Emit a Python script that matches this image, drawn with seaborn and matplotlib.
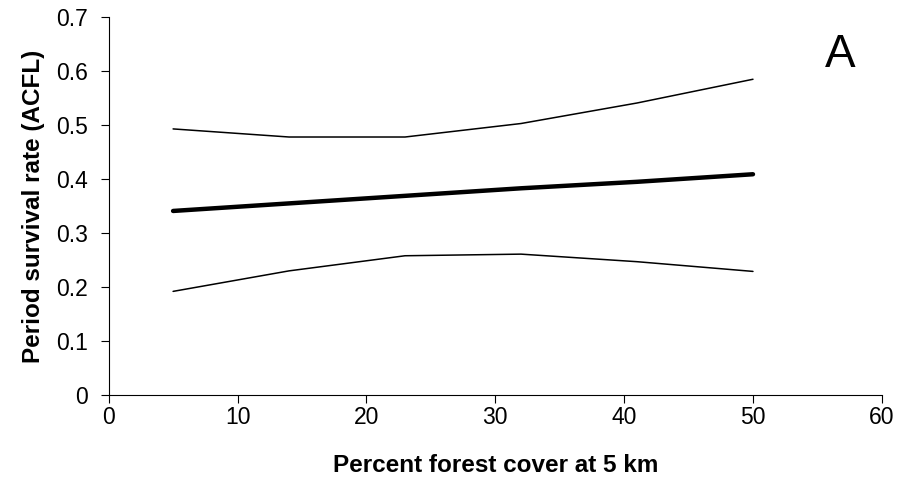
import matplotlib
matplotlib.use("Agg")
import matplotlib.pyplot as plt
import seaborn as sns
import pandas as pd

# forest cover values (x) and survival estimates
forest_cover = [5, 14, 23, 32, 41, 50]
survival = [0.341, 0.355, 0.369, 0.383, 0.395, 0.409]
upper_ci = [0.493, 0.478, 0.478, 0.503, 0.541, 0.585]
lower_ci = [0.192, 0.230, 0.258, 0.261, 0.247, 0.229]

sns.set_style("ticks")
plt.rcParams['font.family'] = ['Liberation Sans', 'DejaVu Sans']
plt.rcParams['text.color'] = 'black'
plt.rcParams['axes.labelcolor'] = 'black'

df = pd.DataFrame({"x": forest_cover, "mid": survival, "hi": upper_ci, "lo": lower_ci})

fig = plt.figure(figsize=(8.98, 4.91), dpi=100)
ax = fig.add_axes([0.121, 0.1955, 0.861, 0.7695])

sns.lineplot(data=df, x="x", y="hi", color="black", lw=1.1, ax=ax)
sns.lineplot(data=df, x="x", y="mid", color="black", lw=3.2, ax=ax)
sns.lineplot(data=df, x="x", y="lo", color="black", lw=1.1, ax=ax)

ax.set_xlim(0, 60)
ax.set_ylim(0, 0.7)
ax.set_xticks(range(0, 61, 10))
ax.set_yticks([0, 0.1, 0.2, 0.3, 0.4, 0.5, 0.6, 0.7])
ax.set_yticklabels(["0", "0.1", "0.2", "0.3", "0.4", "0.5", "0.6", "0.7"])
ax.tick_params(axis="both", labelsize=16.5, length=6, width=0.8, color="black", labelcolor="black")
ax.tick_params(axis="x", pad=2)
ax.tick_params(axis="y", pad=9)
ax.set_xlabel("Percent forest cover at 5 km", fontsize=17.5, fontweight="bold", labelpad=18)
ax.set_ylabel("Period survival rate (ACFL)", fontsize=17.5, fontweight="bold", labelpad=8)
sns.despine(ax=ax)
for s in ["left", "bottom"]:
    ax.spines[s].set_color("black")
    ax.spines[s].set_linewidth(0.8)

ax.text(56.8, 0.63, "A", fontsize=33, ha="center", va="center")

fig.savefig("out.png", dpi=100)
